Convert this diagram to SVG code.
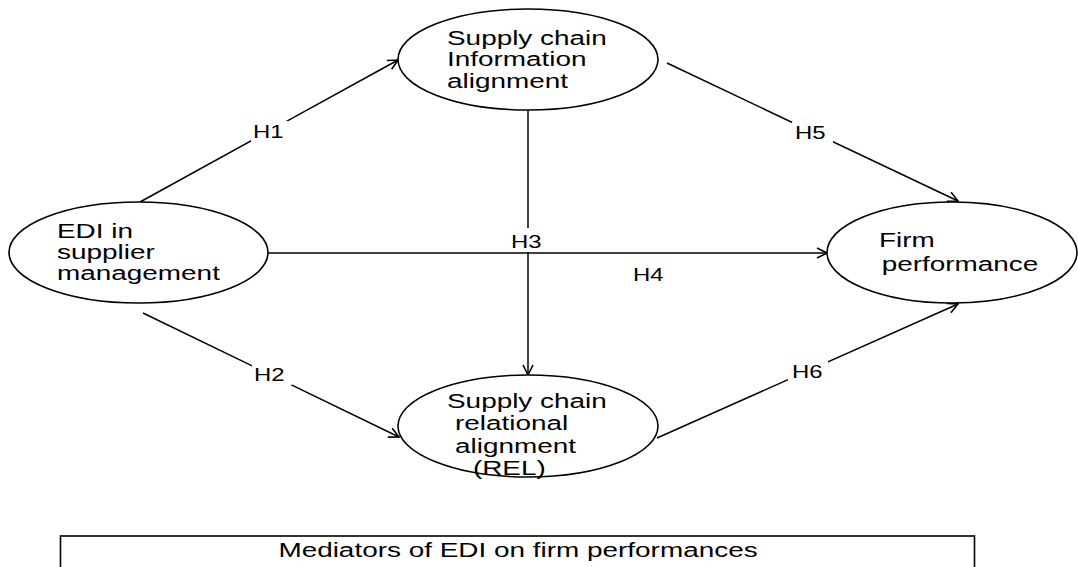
<svg xmlns="http://www.w3.org/2000/svg" width="1078" height="567" viewBox="0 0 1078 567">
<style>
.node{fill:#fff;stroke:#000;stroke-width:1.6}
.edge{fill:none;stroke:#000;stroke-width:1.5}
.t{font-family:"Liberation Sans",Arial,sans-serif;font-size:21px;fill:#000}
.h{font-family:"Liberation Sans",Arial,sans-serif;font-size:18px;fill:#000}
.bg{fill:#fff;stroke:none}
</style>
<defs>
<marker id="arr" viewBox="0 0 12 12" refX="11" refY="6" markerWidth="12" markerHeight="12" markerUnits="userSpaceOnUse" orient="auto">
<path d="M1,1 L11,6 L1,11" fill="none" stroke="#000" stroke-width="1.6"/>
</marker>
</defs>
<g id="connectors">
<line class="edge" x1="140" y1="202" x2="398" y2="60" marker-end="url(#arr)"/>
<line class="edge" x1="143" y1="313" x2="399" y2="437" marker-end="url(#arr)"/>
<line class="edge" x1="528" y1="110" x2="528" y2="375" marker-end="url(#arr)"/>
<line class="edge" x1="268" y1="253" x2="827" y2="253" marker-end="url(#arr)"/>
<line class="edge" x1="667" y1="63" x2="958" y2="201" marker-end="url(#arr)"/>
<line class="edge" x1="657" y1="438" x2="958" y2="304" marker-end="url(#arr)"/>
<rect class="bg" x="251" y="121" width="38" height="22"/>
<rect class="bg" x="252" y="364" width="40" height="21"/>
<rect class="bg" x="508" y="228" width="42" height="24"/>
<rect class="bg" x="792" y="122" width="41" height="21"/>
<rect class="bg" x="788" y="361" width="40" height="21"/>
<text class="h" transform="translate(253,138) scale(1.33,1)">H1</text>
<text class="h" transform="translate(254,381) scale(1.33,1)">H2</text>
<text class="h" transform="translate(511,248) scale(1.33,1)">H3</text>
<text class="h" transform="translate(633,281) scale(1.33,1)">H4</text>
<text class="h" transform="translate(795,139) scale(1.33,1)">H5</text>
<text class="h" transform="translate(792,378) scale(1.33,1)">H6</text>
</g>
<g id="edi">
<ellipse class="node" cx="138.5" cy="252.5" rx="129.5" ry="50.5"/>
<text class="t" transform="translate(57,238) scale(1.33,1)"><tspan x="0" y="0">EDI in</tspan><tspan x="0" y="21">supplier</tspan><tspan x="0" y="42">management</tspan></text>
</g>
<g id="info">
<ellipse class="node" cx="528" cy="59.5" rx="130" ry="50.5"/>
<text class="t" transform="translate(447,45) scale(1.33,1)"><tspan x="0" y="0">Supply chain</tspan><tspan x="0" y="21.5">Information</tspan><tspan x="0" y="43">alignment</tspan></text>
</g>
<g id="rel">
<ellipse class="node" cx="528" cy="426" rx="130" ry="51"/>
<text class="t" transform="translate(447,408) scale(1.33,1)"><tspan x="0" y="0">Supply chain</tspan><tspan x="6" y="22.5">relational</tspan><tspan x="6" y="45">alignment</tspan><tspan x="19.5" y="67.5">(REL)</tspan></text>
</g>
<g id="firm">
<ellipse class="node" cx="952" cy="252.5" rx="125" ry="50.5"/>
<text class="t" transform="translate(879,247) scale(1.33,1)"><tspan x="0" y="0">Firm</tspan><tspan x="2" y="24">performance</tspan></text>
</g>
<g id="caption">
<rect x="60.5" y="536" width="914" height="40" fill="#fff" stroke="#000" stroke-width="1.6"/>
<text class="t" text-anchor="middle" transform="translate(518,557) scale(1.33,1)">Mediators of EDI on firm performances</text>
</g>
</svg>
